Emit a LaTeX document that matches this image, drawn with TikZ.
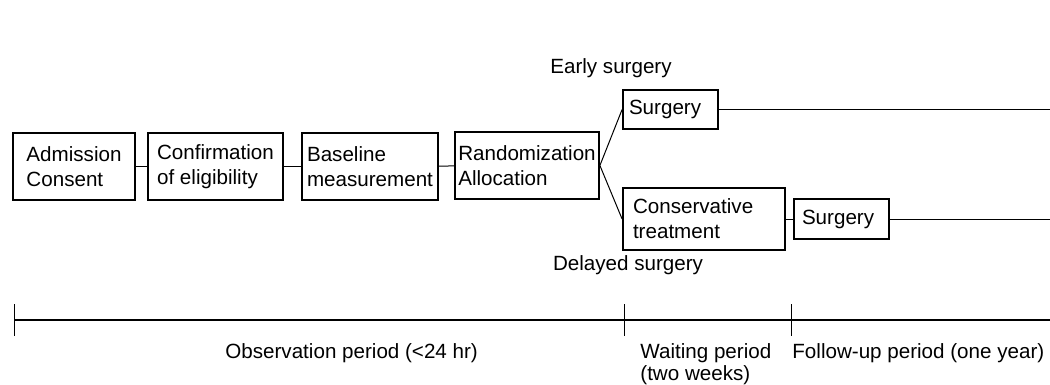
\documentclass[tikz,border=0pt]{standalone}
\usepackage{fontspec}
\setmainfont{Liberation Sans}
\usepackage{tikz}

\begin{document}
\begin{tikzpicture}
  [x=0.5pt, y=-0.5pt,
   every node/.style={font=\fontsize{10.3}{12.5}\selectfont, inner sep=0pt},
   stagebox/.style={draw, line width=0.9pt, align=left, minimum height=33.5pt},
   opbox/.style={draw, line width=0.9pt, align=left, text width=41.5pt, inner xsep=3pt, minimum height=19.5pt},
   link/.style={line width=0.5pt},
   period/.style={line width=0.7pt}]
  \useasboundingbox (0, 0) rectangle (1050, 385);
  \node[stagebox, minimum width=61pt] (adm) at (74, 166.5) {Admission\\Consent};
  \node[stagebox, minimum width=67.5pt] (conf) at (215.5, 166.5) {Confirmation\\of eligibility};
  \node[stagebox, minimum width=68pt] (base) at (370, 166.5) {Baseline\\measurement};
  \node[stagebox, minimum width=72pt] (rand) at (527, 165.5) {Randomization\\Allocation};
  \node[opbox] (surg) at (670.5, 109.5) {Surgery};
  \node[stagebox, text width=71pt, inner xsep=5pt, minimum height=31pt] (cons) at (704, 219) {Conservative\\treatment};
  \node[opbox, text width=39.5pt, inner xsep=4pt, minimum height=20pt] (dsurg) at (841.5, 219) {Surgery};
  \node (early) at (611, 68) {Early surgery};
  \node (delayed) at (628, 265) {Delayed surgery};
  \coordinate (edge) at (1050, 0);
  \draw[link] (adm) -- (conf);
  \draw[link] (conf) -- (base);
  \draw[link] (base) -- (rand);
  \draw[link] (rand.east) -- (surg.west);
  \draw[link] (rand.east) -- (cons.west);
  \draw[link] (cons) -- (dsurg);
  \draw[link] (surg.east) -- (surg.east -| edge);
  \draw[link] (dsurg.east) -- (dsurg.east -| edge);
  \coordinate (t0) at (14.7, 320);
  \coordinate (t1) at (624, 320);
  \coordinate (t2) at (791, 320);
  \draw[period] (t0) -- (t0 -| edge);
  \draw[link] (t0) ++(0, -16) -- ++(0, 32);
  \draw[link] (t1) ++(0, -16) -- ++(0, 32);
  \draw[link] (t2) ++(0, -16) -- ++(0, 32);
  \node[anchor=base west] (obs) at (225, 358) {Observation period (<24 hr)};
  \node[anchor=north west, align=left, font=\fontsize{10.3}{11}\selectfont] (wait) at (640, 343) {Waiting period\\(two weeks)};
  \node[anchor=base west] (follow) at (792, 358) {Follow-up period (one year)};
\end{tikzpicture}
\end{document}
